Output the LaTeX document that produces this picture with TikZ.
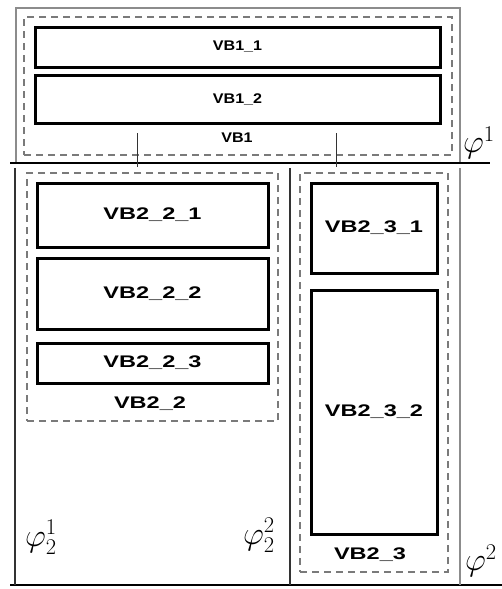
\documentclass[tikz,border=0pt]{standalone}
\usepackage{fontspec}
\usepackage{graphicx}
\usetikzlibrary{positioning}
\newfontfamily\vbfont{Liberation Sans}
\definecolor{VBGray}{HTML}{8C8C8C}
\definecolor{VBDash}{HTML}{7A7A7A}
\definecolor{VBDark}{HTML}{333333}
\newcommand{\VBone}[1]{\scalebox{1.15}[1]{#1}}
\newcommand{\VBtwo}[1]{\scalebox{1.4}[1]{#1}}
\newcommand{\philab}[1]{\scalebox{1.3}{$#1$}}

\begin{document}
\begin{tikzpicture}[x=1pt,y=-1pt,>=latex]
\tikzset{vbbox/.style={draw,line width=3pt,inner sep=0pt,align=center},
vbgroup/.style={draw=VBDash,line width=1.4pt,dash pattern=on 7pt off 5pt,inner sep=0pt},
vbsmall/.style={font=\vbfont\bfseries\fontsize{14}{16}\selectfont},
vbbig/.style={font=\vbfont\bfseries\fontsize{16.8}{19}\selectfont},
philbl/.style={font=\fontsize{24}{28}\selectfont,inner sep=0pt},
philine/.style={line width=2.5pt}}
\useasboundingbox (0,0) rectangle (502,589);
% upper block
\draw[VBGray,line width=1.2pt] (16,163) |- (460,8) -- (460,163);
\node[vbgroup,minimum width=428,minimum height=138] (vb1) at (238,86) {};
\node[vbbox,vbsmall,minimum width=405,minimum height=40] (vb11) at (237.5,47) {\VBone{VB1\_1}};
\node[vbbox,vbsmall,minimum width=405,minimum height=48] (vb12) at (237.5,99) {\VBone{VB1\_2}};
\node[vbsmall] (vb1lbl) at (237,138) {\VBone{VB1}};
% lower blocks
\node[vbgroup,minimum width=251,minimum height=248] (vb22) at (152.5,297) {};
\node[vbbox,vbbig,minimum width=231,minimum height=64] (vb221) at (152.5,215) {\VBtwo{VB2\_2\_1}};
\node[vbbox,vbbig,minimum width=231,minimum height=71] (vb222) at (152.5,293.5) {\VBtwo{VB2\_2\_2}};
\node[vbbox,vbbig,minimum width=231,minimum height=40] (vb223) at (152.5,363) {\VBtwo{VB2\_2\_3}};
\node[vbbig] (vb22lbl) at (150,404) {\VBtwo{VB2\_2}};
\node[vbgroup,minimum width=148,minimum height=399] (vb23) at (374,372.5) {};
\node[vbbox,vbbig,minimum width=126,minimum height=90] (vb231) at (374,228) {\VBtwo{VB2\_3\_1}};
\node[vbbox,vbbig,minimum width=126,minimum height=244] (vb232) at (374,412) {\VBtwo{VB2\_3\_2}};
\node[vbbig] (vb23lbl) at (370,555) {\VBtwo{VB2\_3}};
% level lines
\draw[philine] (10,163) -- (490,163);
\draw[philine] (10,585) -- (502,585);
\draw[VBDark,line width=1.5pt] (15,168) -- (15,585);
\draw[VBDark,line width=1.5pt] (290,168) -- (290,585);
\draw[VBGray,line width=1.2pt] (460,168) -- (460,585);
\coordinate (t1a) at (137,133);
\coordinate (t1b) at (137,167);
\coordinate (t2a) at (336,133);
\coordinate (t2b) at (336,167);
\draw[VBDark,line width=1pt] (t1a) -- (t1b);
\draw[VBDark,line width=1pt] (t2a) -- (t2b);
% phi labels
\node[philbl] (phi1) at (479,143) {\philab{\varphi^1}};
\node[philbl] (phi21) at (41,537) {\philab{\varphi_2^1}};
\node[philbl] (phi22) at (259,535) {\philab{\varphi_2^2}};
\node[philbl,anchor=west] (phi2) at (465,561) {\philab{\varphi^2}};
\end{tikzpicture}
\end{document}
